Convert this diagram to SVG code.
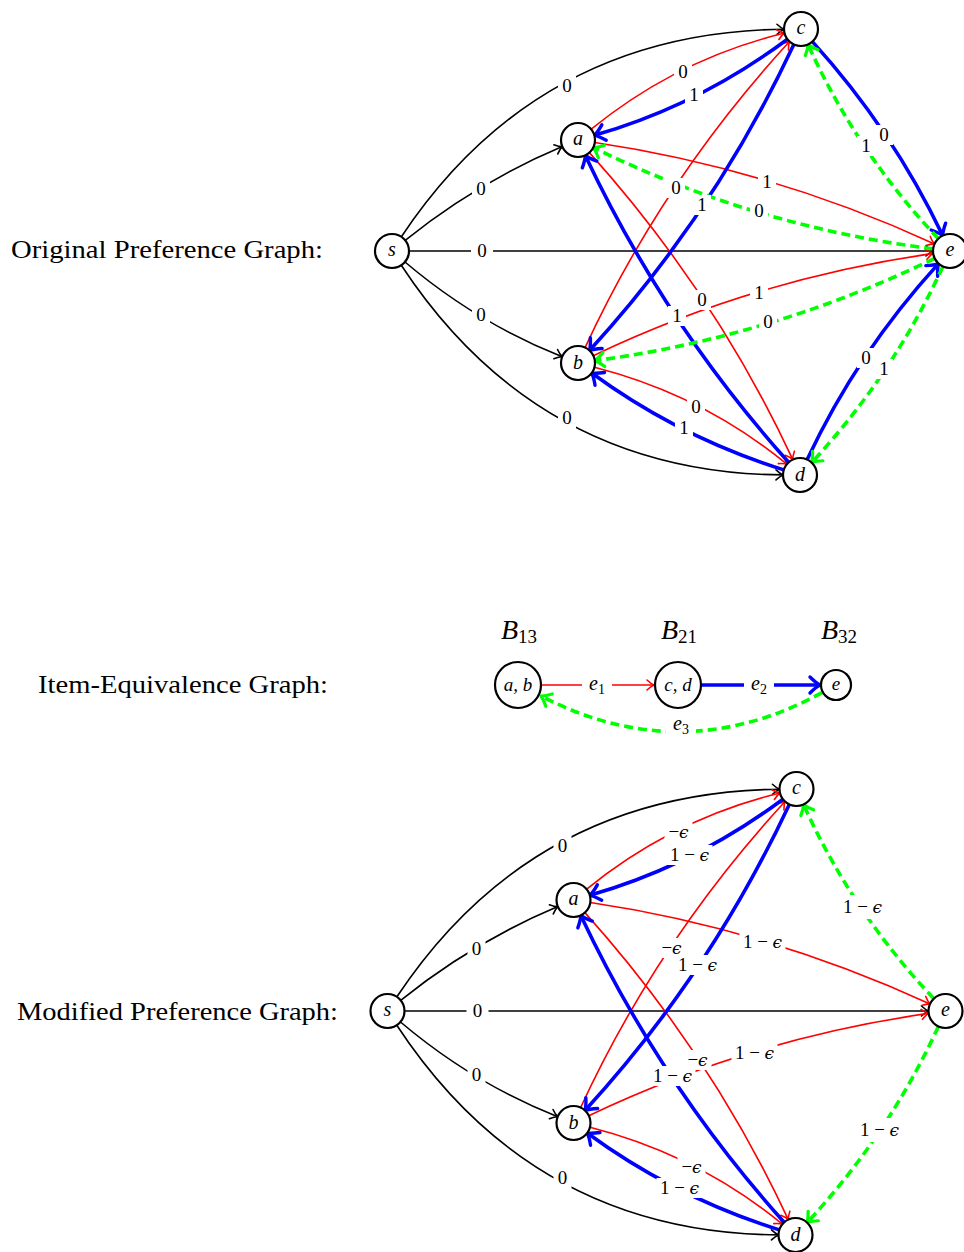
<svg xmlns="http://www.w3.org/2000/svg" width="964" height="1252" viewBox="0 0 964 1252">
<style>
.title{font-family:"Liberation Serif","DejaVu Serif",serif;font-size:26px;fill:#000}
.n circle{fill:#fff;stroke:#000;stroke-width:2.2}
.nt{font-family:"Liberation Serif","DejaVu Serif",serif;font-style:italic;font-size:20px;text-anchor:middle;fill:#000}
.bl{font-family:"Liberation Serif","DejaVu Serif",serif;font-style:italic;font-size:28px;text-anchor:middle;fill:#000}
.k{fill:none;stroke:#000;stroke-width:1.6;marker-end:url(#aK)}
.r{fill:none;stroke:#f00;stroke-width:1.6;marker-end:url(#aR)}
.b{fill:none;stroke:#00f;stroke-width:3.6;marker-end:url(#aB)}
.g{fill:none;stroke:#0f0;stroke-width:3.6;stroke-dasharray:9 5;marker-end:url(#aG)}
.lb rect{fill:#fff}
.lb text{font-family:"Liberation Serif","DejaVu Serif",serif;font-size:19px;text-anchor:middle;fill:#000}
.ep{font-family:"DejaVu Serif","Liberation Serif",serif;font-style:italic;font-size:17px}
</style>
<defs>
<marker id="aK" markerUnits="userSpaceOnUse" orient="auto" refX="0" refY="0" markerWidth="20" markerHeight="20" overflow="visible"><path d="M-7,-5 Q-3,-1.2 0,0 Q-3,1.2 -7,5" fill="none" stroke="#000" stroke-width="1.6" stroke-linecap="round" stroke-linejoin="round"/></marker>
<marker id="aR" markerUnits="userSpaceOnUse" orient="auto" refX="0" refY="0" markerWidth="20" markerHeight="20" overflow="visible"><path d="M-7,-5 Q-3,-1.2 0,0 Q-3,1.2 -7,5" fill="none" stroke="#f00" stroke-width="1.6" stroke-linecap="round" stroke-linejoin="round"/></marker>
<marker id="aB" markerUnits="userSpaceOnUse" orient="auto" refX="0" refY="0" markerWidth="30" markerHeight="30" overflow="visible"><path d="M-10,-8 Q-4,-2 0,0 Q-4,2 -10,8" fill="none" stroke="#00f" stroke-width="3.4" stroke-linecap="round" stroke-linejoin="round"/></marker>
<marker id="aG" markerUnits="userSpaceOnUse" orient="auto" refX="0" refY="0" markerWidth="30" markerHeight="30" overflow="visible"><path d="M-9,-7 Q-4,-2 0,0 Q-4,2 -9,7" fill="none" stroke="#0f0" stroke-width="3.2" stroke-linecap="round" stroke-linejoin="round"/></marker>
</defs>
<rect width="964" height="1252" fill="#fff"/>

<text class="title" x="11" y="258" textLength="312" lengthAdjust="spacingAndGlyphs">Original Preference Graph:</text>
<text class="title" x="38" y="693" textLength="290" lengthAdjust="spacingAndGlyphs">Item-Equivalence Graph:</text>
<text class="title" x="17" y="1020" textLength="321" lengthAdjust="spacingAndGlyphs">Modified Preference Graph:</text>

<!-- ORIGINAL GRAPH -->
<g id="original">
<g id="orig-connectors">
<path class="k" d="M401.4,236.8 Q537.5,32 784,29.2"/>
<path class="k" d="M405.2,240.3 Q477,182.5 562.3,146.6"/>
<path class="k" d="M409,251 L933,251"/>
<path class="k" d="M405,262 Q477,323 562.2,356.7"/>
<path class="k" d="M401.3,265.2 Q538,473 783,474.9"/>
<path class="r" d="M591.2,129.2 Q676.5,59.5 784.5,33"/>
<path class="r" d="M585.1,347.6 Q662.5,180 789.5,41.5"/>
<path class="r" d="M594.8,142.5 Q770,168.5 934.5,243.9"/>
<path class="r" d="M589.4,152.6 Q715,292.5 792.8,459.6"/>
<path class="r" d="M593.3,355.7 Q754,279 933.2,253.4"/>
<path class="r" d="M594.5,367.2 Q703,395 786.9,464.2"/>
<path class="b" d="M787.4,39.2 Q698.5,105.5 594.4,135.3"/>
<path class="b" d="M793.8,44.4 Q714.5,214 589.5,350.5"/>
<path class="b" d="M788.6,462.3 Q665,324.5 585.3,155.4"/>
<path class="b" d="M783.8,469.9 Q679,437 591.7,373"/>
<path class="b" d="M812.4,41.6 Q892.5,130 942.7,235.6"/>
<path class="b" d="M807.2,459.6 Q857,353 938.5,263.6"/>
<path class="g" d="M938.3,238.6 Q856.5,152 808,44.5"/>
<path class="g" d="M933.1,248.9 Q754,226.5 593.3,147.5"/>
<path class="g" d="M934.7,258.4 Q772,337 594.9,360.7"/>
<path class="g" d="M942.9,266.4 Q893,375 811.6,462.6"/>
<g class="lb">
<g transform="translate(567,86)"><rect x="-9" y="-10" width="18" height="20"/><text y="6">0</text></g>
<g transform="translate(481,189)"><rect x="-9" y="-10" width="18" height="20"/><text y="6">0</text></g>
<g transform="translate(482,251)"><rect x="-11" y="-10" width="22" height="20"/><text y="6">0</text></g>
<g transform="translate(481,315)"><rect x="-9" y="-10" width="18" height="20"/><text y="6">0</text></g>
<g transform="translate(567,418)"><rect x="-9" y="-10" width="18" height="20"/><text y="6">0</text></g>
<g transform="translate(683,72)"><rect x="-9" y="-10" width="18" height="20"/><text y="6">0</text></g>
<g transform="translate(676,188)"><rect x="-9" y="-10" width="18" height="20"/><text y="6">0</text></g>
<g transform="translate(767,182)"><rect x="-9" y="-10" width="18" height="20"/><text y="6">1</text></g>
<g transform="translate(702,300)"><rect x="-9" y="-10" width="18" height="20"/><text y="6">0</text></g>
<g transform="translate(759,293)"><rect x="-9" y="-10" width="18" height="20"/><text y="6">1</text></g>
<g transform="translate(696,407)"><rect x="-9" y="-10" width="18" height="20"/><text y="6">0</text></g>
<g transform="translate(694,95)"><rect x="-9" y="-10" width="18" height="20"/><text y="6">1</text></g>
<g transform="translate(702,205)"><rect x="-9" y="-10" width="18" height="20"/><text y="6">1</text></g>
<g transform="translate(677,316)"><rect x="-9" y="-10" width="18" height="20"/><text y="6">1</text></g>
<g transform="translate(684,428)"><rect x="-9" y="-10" width="18" height="20"/><text y="6">1</text></g>
<g transform="translate(884,135)"><rect x="-9" y="-10" width="18" height="20"/><text y="6">0</text></g>
<g transform="translate(866,358)"><rect x="-9" y="-10" width="18" height="20"/><text y="6">0</text></g>
<g transform="translate(866,146)"><rect x="-9" y="-10" width="18" height="20"/><text y="6">1</text></g>
<g transform="translate(759,211)"><rect x="-9" y="-10" width="18" height="20"/><text y="6">0</text></g>
<g transform="translate(768,322)"><rect x="-9" y="-10" width="18" height="20"/><text y="6">0</text></g>
<g transform="translate(884,369)"><rect x="-9" y="-10" width="18" height="20"/><text y="6">1</text></g>
</g>
</g>
<g id="orig-s" class="n"><circle cx="392" cy="251" r="17"/><text class="nt" x="392" y="256">s</text></g>
<g id="orig-a" class="n"><circle cx="578" cy="140" r="17"/><text class="nt" x="578" y="145">a</text></g>
<g id="orig-b" class="n"><circle cx="578" cy="363" r="17"/><text class="nt" x="578" y="369">b</text></g>
<g id="orig-c" class="n"><circle cx="801" cy="29" r="17"/><text class="nt" x="801" y="34">c</text></g>
<g id="orig-d" class="n"><circle cx="800" cy="475" r="17"/><text class="nt" x="800" y="481">d</text></g>
<g id="orig-e" class="n"><circle cx="950" cy="251" r="17"/><text class="nt" x="950" y="256">e</text></g>
</g>

<!-- ITEM-EQUIVALENCE GRAPH -->
<g id="equivalence">
<g id="eq-connectors">
<path class="r" d="M542,685 L654,685"/>
<path class="b" d="M702,685 L820,685"/>
<path class="g" d="M822,692.7 Q682,769 541,696"/>
<g class="lb">
<g transform="translate(597,685)"><rect x="-15" y="-11" width="30" height="22"/><text y="5"><tspan font-style="italic" font-size="20">e</tspan><tspan font-size="14" dy="4">1</tspan></text></g>
<g transform="translate(759,685)"><rect x="-15" y="-11" width="30" height="22"/><text y="5"><tspan font-style="italic" font-size="20">e</tspan><tspan font-size="14" dy="4">2</tspan></text></g>
<g transform="translate(681,725)"><rect x="-15" y="-11" width="30" height="22"/><text y="5"><tspan font-style="italic" font-size="20">e</tspan><tspan font-size="14" dy="4">3</tspan></text></g>
</g>
</g>
<g id="eq-ab" class="n"><circle cx="518" cy="685" r="23"/><text class="nt" x="518" y="691" style="font-size:19px">a, b</text></g>
<g id="eq-cd" class="n"><circle cx="678" cy="685" r="23"/><text class="nt" x="678" y="691" style="font-size:19px">c, d</text></g>
<g id="eq-e" class="n"><circle cx="836" cy="685" r="15"/><text class="nt" x="836" y="690" style="font-size:19px">e</text></g>
<text class="bl" x="519" y="639">B<tspan font-style="normal" font-size="19" dy="4">13</tspan></text>
<text class="bl" x="679" y="639">B<tspan font-style="normal" font-size="19" dy="4">21</tspan></text>
<text class="bl" x="839" y="639">B<tspan font-style="normal" font-size="19" dy="4">32</tspan></text>
</g>

<!-- MODIFIED GRAPH -->
<g id="modified" transform="translate(-4.5,760)">
<g id="mod-connectors">
<path class="k" d="M401.4,236.8 Q537.5,32 784,29.2"/>
<path class="k" d="M405.2,240.3 Q477,182.5 562.3,146.6"/>
<path class="k" d="M409,251 L933,251"/>
<path class="k" d="M405,262 Q477,323 562.2,356.7"/>
<path class="k" d="M401.3,265.2 Q538,473 783,474.9"/>
<path class="r" d="M591.2,129.2 Q676.5,59.5 784.5,33"/>
<path class="r" d="M585.1,347.6 Q662.5,180 789.5,41.5"/>
<path class="r" d="M594.8,142.5 Q770,168.5 934.5,243.9"/>
<path class="r" d="M589.4,152.6 Q715,292.5 792.8,459.6"/>
<path class="r" d="M593.3,355.7 Q754,279 933.2,253.4"/>
<path class="r" d="M594.5,367.2 Q703,395 786.9,464.2"/>
<path class="b" d="M787.4,39.2 Q698.5,105.5 594.4,135.3"/>
<path class="b" d="M793.8,44.4 Q714.5,214 589.5,350.5"/>
<path class="b" d="M788.6,462.3 Q665,324.5 585.3,155.4"/>
<path class="b" d="M783.8,469.9 Q679,437 591.7,373"/>
<path class="g" d="M938.3,238.6 Q856.5,152 808,44.5"/>
<path class="g" d="M942.9,266.4 Q893,375 811.6,462.6"/>
<g class="lb">
<g transform="translate(567,86)"><rect x="-9" y="-10" width="18" height="20"/><text y="6">0</text></g>
<g transform="translate(481,189)"><rect x="-9" y="-10" width="18" height="20"/><text y="6">0</text></g>
<g transform="translate(482,251)"><rect x="-11" y="-10" width="22" height="20"/><text y="6">0</text></g>
<g transform="translate(481,315)"><rect x="-9" y="-10" width="18" height="20"/><text y="6">0</text></g>
<g transform="translate(567,418)"><rect x="-9" y="-10" width="18" height="20"/><text y="6">0</text></g>
<g transform="translate(683,72)"><rect x="-14" y="-10" width="28" height="20"/><text y="6">−<tspan class="ep">ϵ</tspan></text></g>
<g transform="translate(676,188)"><rect x="-14" y="-10" width="28" height="20"/><text y="6">−<tspan class="ep">ϵ</tspan></text></g>
<g transform="translate(767,182)"><rect x="-23" y="-10" width="46" height="20"/><text y="6">1 − <tspan class="ep">ϵ</tspan></text></g>
<g transform="translate(702,300)"><rect x="-14" y="-10" width="28" height="20"/><text y="6">−<tspan class="ep">ϵ</tspan></text></g>
<g transform="translate(759,293)"><rect x="-23" y="-10" width="46" height="20"/><text y="6">1 − <tspan class="ep">ϵ</tspan></text></g>
<g transform="translate(696,407)"><rect x="-14" y="-10" width="28" height="20"/><text y="6">−<tspan class="ep">ϵ</tspan></text></g>
<g transform="translate(694,95)"><rect x="-23" y="-10" width="46" height="20"/><text y="6">1 − <tspan class="ep">ϵ</tspan></text></g>
<g transform="translate(702,205)"><rect x="-23" y="-10" width="46" height="20"/><text y="6">1 − <tspan class="ep">ϵ</tspan></text></g>
<g transform="translate(677,316)"><rect x="-23" y="-10" width="46" height="20"/><text y="6">1 − <tspan class="ep">ϵ</tspan></text></g>
<g transform="translate(684,428)"><rect x="-23" y="-10" width="46" height="20"/><text y="6">1 − <tspan class="ep">ϵ</tspan></text></g>
<g transform="translate(867,147)"><rect x="-23" y="-12" width="46" height="24"/><text y="6">1 − <tspan class="ep">ϵ</tspan></text></g>
<g transform="translate(884,370)"><rect x="-23" y="-12" width="46" height="24"/><text y="6">1 − <tspan class="ep">ϵ</tspan></text></g>
</g>
</g>
<g id="mod-s" class="n"><circle cx="392" cy="251" r="17"/><text class="nt" x="392" y="256">s</text></g>
<g id="mod-a" class="n"><circle cx="578" cy="140" r="17"/><text class="nt" x="578" y="145">a</text></g>
<g id="mod-b" class="n"><circle cx="578" cy="363" r="17"/><text class="nt" x="578" y="369">b</text></g>
<g id="mod-c" class="n"><circle cx="801" cy="29" r="17"/><text class="nt" x="801" y="34">c</text></g>
<g id="mod-d" class="n"><circle cx="800" cy="475" r="17"/><text class="nt" x="800" y="481">d</text></g>
<g id="mod-e" class="n"><circle cx="950" cy="251" r="17"/><text class="nt" x="950" y="256">e</text></g>
</g>
</svg>
